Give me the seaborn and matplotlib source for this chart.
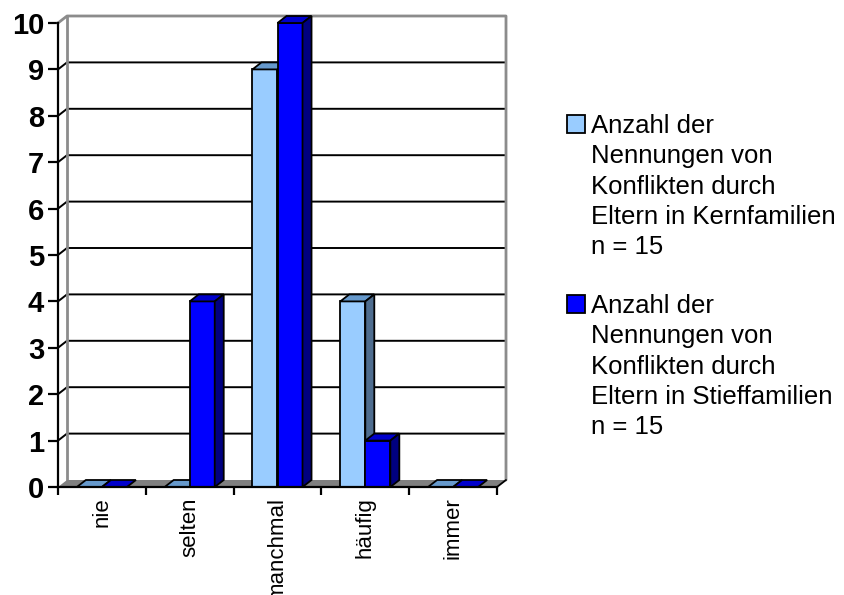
import numpy as np
import pandas as pd
import matplotlib
matplotlib.use("Agg")
import matplotlib.pyplot as plt
from matplotlib.patches import Polygon, Rectangle
import seaborn as sns

categories = ["nie", "selten", "manchmal", "häufig", "immer"]
kern_values = [0, 0, 9, 4, 0]
stief_values = [0, 4, 10, 1, 0]
series_names = [
    "Anzahl der\nNennungen von\nKonflikten durch\nEltern in Kernfamilien\nn = 15",
    "Anzahl der\nNennungen von\nKonflikten durch\nEltern in Stieffamilien\nn = 15",
]
y_ticks = list(range(0, 11))

face_colors = ["#99ccff", "#0000ff"]
top_colors = ["#6699cc", "#0000cc"]
side_colors = ["#4f6d8f", "#000080"]

df = pd.DataFrame({
    "Kategorie": categories * 2,
    "Anzahl": kern_values + stief_values,
    "Serie": [series_names[0]] * len(categories) + [series_names[1]] * len(categories),
})

sns.set_style("white")
plt.rcParams["font.family"] = ["Liberation Sans", "DejaVu Sans"]

W, H, DPI = 845, 595, 100
fig = plt.figure(figsize=(W / DPI, H / DPI), dpi=DPI)
ax = fig.add_axes([58 / W, 108 / H, 439 / W, 464 / H])

sns.barplot(data=df, x="Kategorie", y="Anzahl", hue="Serie", order=categories,
            hue_order=series_names, palette=face_colors, width=0.57,
            edgecolor="black", linewidth=1.3, saturation=1, legend=False, ax=ax)

x_lo, x_hi = -0.5, len(categories) - 0.5
y_lo, y_hi = y_ticks[0], y_ticks[-1]
ax.set_xlim(x_lo, x_hi)
ax.set_ylim(y_lo, y_hi)

# depth of the fake 3d look, pixels converted to data units
ax_w = ax.get_position().width * W
ax_h = ax.get_position().height * H
dx = 9 * (x_hi - x_lo) / ax_w
dy = 7 * (y_hi - y_lo) / ax_h

# back wall + side wall grid
for v in y_ticks[1:-1]:
    ax.plot([x_lo, x_lo + dx, x_hi + dx], [v + 0, v + dy, v + dy],
            color="black", lw=1.4, clip_on=False, zorder=1)
ax.plot([x_lo, x_lo + dx, x_hi + dx, x_hi + dx], [y_hi, y_hi + dy, y_hi + dy, y_lo + dy],
        color="#8c8c8c", lw=2.0, clip_on=False, zorder=1)
ax.plot([x_lo + dx, x_lo + dx], [y_lo + dy, y_hi + dy],
        color="#8c8c8c", lw=2.0, clip_on=False, zorder=1)

# floor
ax.add_patch(Polygon([(x_lo, 0), (x_hi, 0), (x_hi + dx, dy), (x_lo + dx, dy)],
                     closed=True, facecolor="#808080", edgecolor="none",
                     clip_on=False, zorder=2))
ax.plot([x_hi, x_hi + dx], [0, dy], color="black", lw=1.3, clip_on=False, zorder=2)

# tops and sides of the bars
for i, cont in enumerate(ax.containers):
    z = 3 + 2 * i
    for bar in cont.patches:
        x0 = bar.get_x()
        w = bar.get_width()
        h = bar.get_height()
        bar.set_zorder(z)
        bar.set_clip_on(False)
        top = Polygon([(x0, h), (x0 + w, h), (x0 + w + dx, h + dy), (x0 + dx, h + dy)],
                      closed=True, facecolor=top_colors[i], edgecolor="black",
                      lw=1.3, clip_on=False, zorder=z + 0.5)
        ax.add_patch(top)
        if h > 0:
            side = Polygon([(x0 + w, 0), (x0 + w + dx, dy), (x0 + w + dx, h + dy), (x0 + w, h)],
                           closed=True, facecolor=side_colors[i], edgecolor="black",
                           lw=1.3, clip_on=False, zorder=z + 0.5)
            ax.add_patch(side)

# axes
for s in ["top", "right"]:
    ax.spines[s].set_visible(False)
for s in ["left", "bottom"]:
    ax.spines[s].set_color("black")
    ax.spines[s].set_linewidth(1.6)
    ax.spines[s].set_zorder(6)

ax.set_xlabel("")
ax.set_ylabel("")
ax.set_yticks(y_ticks)
ax.set_yticklabels([str(t) for t in y_ticks], fontweight="bold")
ax.tick_params(axis="y", left=True, length=7, width=1.6, pad=3, labelsize=21, colors="black")

ax.set_xticks(range(len(categories)))
ax.set_xticklabels(categories, rotation=90)
ax.set_xticks(np.arange(x_lo, x_hi + 0.5, 1), minor=True)
ax.tick_params(axis="x", which="major", bottom=False, pad=4, labelsize=16, labelcolor="black")
ax.tick_params(axis="x", which="minor", bottom=True, length=6, width=1.6, color="black")

# legend
leg_x = 567 / W
for i, name in enumerate(series_names):
    top_px = 115 + 180 * i
    fig.add_artist(Rectangle((leg_x, 1 - (top_px + 18) / H), 18 / W, 18 / H,
                             transform=fig.transFigure, facecolor=face_colors[i],
                             edgecolor="black", lw=1.3))
    fig.text(591 / W, 1 - (top_px - 1) / H, name, va="top", ha="left",
             fontsize=18.5, linespacing=1.33, color="black")

fig.savefig("out.png", dpi=DPI)
